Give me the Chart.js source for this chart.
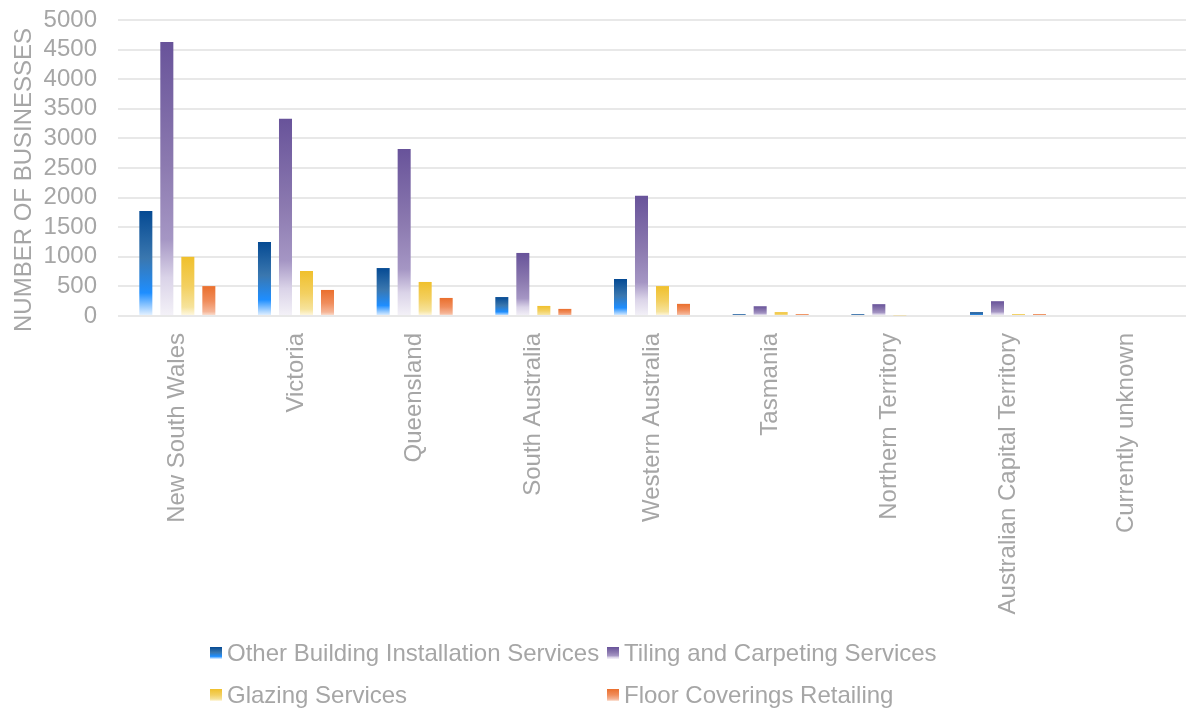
<!DOCTYPE html>
<html>
<head>
<meta charset="utf-8">
<script src="https://cdn.jsdelivr.net/npm/chart.js@4/dist/chart.umd.min.js"></script>
<style>
  html, body { margin: 0; padding: 0; background: #fff; }
  #wrap { position: relative; width: 1186px; height: 709px; overflow: hidden; }
  #c { position: absolute; left: 0; top: 0; }
  #legend { position: absolute; left: 0; top: 0; width: 1186px; height: 709px; pointer-events: none;
            font-family: "Liberation Sans", Arial, sans-serif; font-size: 24px; color: #A6A6A6; }
  .item { position: absolute; display: flex; align-items: center; white-space: nowrap; height: 30px; }
  .box { width: 12px; height: 12px; margin-right: 5px; }
</style>
</head>
<body>
<div id="wrap">
  <canvas id="c" width="1186" height="709"></canvas>
  <div id="legend"></div>
</div>
<script>
const categories = ["New South Wales", "Victoria", "Queensland", "South Australia", "Western Australia",
                    "Tasmania", "Northern Territory", "Australian Capital Territory", "Currently unknown"];
const seriesNames = ["Other Building Installation Services", "Tiling and Carpeting Services",
                     "Glazing Services", "Floor Coverings Retailing"];
const otherBuilding = [1775, 1250, 810, 320, 625, 30, 30, 65, 0];
const tilingCarpeting = [4630, 3330, 2820, 1065, 2030, 165, 200, 250, 0];
const glazing = [1000, 760, 575, 170, 505, 65, 12, 30, 0];
const floorCoverings = [505, 440, 305, 120, 205, 30, 0, 30, 0];
const yMin = 0, yMax = 5000, yStep = 500;
const yTitle = "NUMBER OF BUSINESSES";

const gradStops = [
  [[0, "#054A93"], [0.45, "#3A77AF"], [0.78, "#1E8EFF"], [1, "#EAF4FF"]],
  [[0, "#68539A"], [0.45, "#8C7AB0"], [0.72, "#A596C4"], [0.86, "#DAD3E8"], [1, "#F4F2F8"]],
  [[0, "#F0C02C"], [0.5, "#F3D061"], [0.85, "#F6E39C"], [1, "#FFF9E6"]],
  [[0, "#EA6F2D"], [0.5, "#F08D5C"], [0.85, "#F5B597"], [1, "#FCE6DA"]]
];
const solid = ["#054A93", "#68539A", "#F0C02C", "#EA6F2D"];

function makeGrad(c, top, bottom, stops) {
  const g = c.createLinearGradient(0, top, 0, bottom);
  stops.forEach(s => g.addColorStop(s[0], s[1]));
  return g;
}

function barColor(i) {
  return function(ctx) {
    const chart = ctx.chart;
    if (!chart.chartArea || ctx.type !== 'data') return solid[i];
    const ys = chart.scales.y;
    const top = ys.getPixelForValue(ctx.raw);
    const bottom = ys.getPixelForValue(0);
    if (!(bottom - top > 0.5)) return solid[i];
    return makeGrad(chart.ctx, top, bottom, gradStops[i]);
  };
}

const seriesData = [otherBuilding, tilingCarpeting, glazing, floorCoverings];
const datasets = seriesNames.map((name, i) => ({
  label: name,
  data: seriesData[i],
  backgroundColor: barColor(i),
  borderWidth: 0,
  categoryPercentage: 0.708,
  barPercentage: 0.62
}));

const FONT = "'Liberation Sans', Arial, sans-serif";
const GREY = "#A6A6A6";

// Axis title drawn slightly below the plot centre, as in the reference
const yTitlePlugin = {
  id: 'yTitle',
  afterDraw(chart) {
    const c = chart.ctx;
    c.save();
    c.fillStyle = GREY;
    c.font = "24px " + FONT;
    c.textAlign = 'center';
    c.textBaseline = 'middle';
    c.translate(24, chart.chartArea.top + (chart.chartArea.bottom - chart.chartArea.top) / 2 + 12);
    c.rotate(-Math.PI / 2);
    c.fillText(yTitle, 0, 0);
    c.restore();
  }
};

new Chart(document.getElementById('c'), {
  type: 'bar',
  data: { labels: categories, datasets },
  plugins: [yTitlePlugin],
  options: {
    responsive: false,
    animation: false,
    layout: { padding: { left: 0, right: 0, top: 20, bottom: 0 } },
    plugins: { legend: { display: false }, tooltip: { enabled: false } },
    scales: {
      x: {
        afterFit: (axis) => { axis.height = 393; },
        grid: { display: false, drawTicks: false },
        border: { display: false },
        ticks: { color: GREY, font: { family: FONT, size: 24 }, maxRotation: 90, minRotation: 90, padding: 17, autoSkip: false }
      },
      y: {
        min: yMin, max: yMax,
        afterFit: (axis) => { axis.width = 118; },
        grid: { color: "#E8E8E8", lineWidth: 2, drawTicks: true, tickLength: 21, tickColor: "rgba(0,0,0,0)" },
        border: { display: false },
        ticks: { color: GREY, font: { family: FONT, size: 24 }, padding: 0, stepSize: yStep, autoSkip: false,
                 callback: (v) => String(v) },
        title: { display: false }
      }
    }
  }
});

// HTML legend laid out in two columns
const legend = document.getElementById('legend');
const pos = [[210, 638], [607, 638], [210, 680], [607, 680]];
seriesNames.forEach((name, i) => {
  const it = document.createElement('div');
  it.className = 'item';
  it.style.left = pos[i][0] + 'px';
  it.style.top = pos[i][1] + 'px';
  const b = document.createElement('div');
  b.className = 'box';
  b.style.background = 'linear-gradient(to bottom, ' + gradStops[i].map(s => s[1] + ' ' + (s[0] * 100) + '%').join(', ') + ')';
  const t = document.createElement('span');
  t.textContent = name;
  it.appendChild(b); it.appendChild(t);
  legend.appendChild(it);
});
</script>
</body>
</html>
